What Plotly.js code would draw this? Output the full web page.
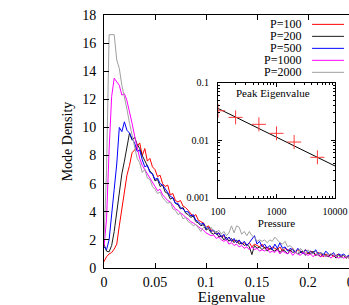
<!DOCTYPE html>
<html>
<head>
<meta charset="utf-8">
<script src="https://cdn.plot.ly/plotly-3.0.1.min.js"></script>
<style>
  html, body { margin: 0; padding: 0; overflow: hidden; background: #fff; }
  #chart { width: 400px; height: 305px; }
</style>
</head>
<body>
<div id="chart"></div>
<script>
// Mode density histograms, one per pressure
const eigenvalue = [
  0, 0.0025, 0.005, 0.0075, 0.01, 0.0125, 0.015, 0.0175, 0.02, 0.0225,
  0.025, 0.0275, 0.03, 0.0325, 0.035, 0.0375, 0.04, 0.0425, 0.045, 0.0475,
  0.05, 0.0525, 0.055, 0.0575, 0.06, 0.0625, 0.065, 0.0675, 0.07, 0.0725,
  0.075, 0.0775, 0.08, 0.0825, 0.085, 0.0875, 0.09, 0.0925, 0.095, 0.0975,
  0.1, 0.1025, 0.105, 0.1075, 0.11, 0.1125, 0.115, 0.1175, 0.12, 0.1225,
  0.125, 0.1275, 0.13, 0.1325, 0.135, 0.1375, 0.14, 0.1425, 0.145, 0.1475,
  0.15, 0.1525, 0.155, 0.1575, 0.16, 0.1625, 0.165, 0.1675, 0.17, 0.1725,
  0.175, 0.1775, 0.18, 0.1825, 0.185, 0.1875, 0.19, 0.1925, 0.195, 0.1975,
  0.2, 0.2025, 0.205, 0.2075, 0.21, 0.2125, 0.215, 0.2175, 0.22, 0.2225,
  0.225, 0.2275, 0.23, 0.2325, 0.235, 0.2375, 0.24, 0.2425, 0.245, 0.2475, 0.25
];

const densityP100 = [
  0.45, 0.8, 1.0, 1.1, 1.35, 1.7, 3.0, 4.3, 5.4, 6.6,
  7.3, 8.2, 8.4, 8.7, 8.9, 8.0, 8.5, 7.6, 7.8, 7.2,
  7.0, 6.5, 6.6, 6.0, 5.8, 5.9, 5.2, 5.3, 4.8, 4.7,
  4.8, 4.4, 4.3, 4.1, 3.9, 3.65, 3.8, 3.4, 3.3, 3.2,
  2.9, 3.0, 2.7, 2.6, 2.4, 2.5, 2.2, 2.3, 2.0, 2.2,
  1.9, 2.0, 1.8, 1.9, 1.7, 1.8, 1.6, 1.8, 1.5, 1.7,
  1.6, 1.5, 1.7, 1.4, 1.5, 1.3, 1.5, 1.4, 1.3, 1.5,
  1.2, 1.4, 1.3, 1.2, 1.4, 1.1, 1.3, 1.2, 1.1, 1.3,
  1.0, 1.2, 1.1, 0.9, 1.1, 1.0, 0.8, 1.0, 0.9, 1.0,
  0.8, 0.9, 1.0, 0.8, 0.9, 0.7, 0.9, 0.8, 0.7, 0.8, 0.7
];

const densityP200 = [
  1.7, 1.2, 1.15, 1.6, 2.6, 4.0, 5.6, 6.7, 7.6, 8.6,
  9.6, 9.1, 9.3, 8.8, 8.5, 8.0, 7.6, 7.3, 6.9, 6.7,
  6.2, 6.3, 5.8, 5.9, 5.4, 5.3, 4.9, 5.0, 4.6, 4.5,
  4.2, 4.3, 3.9, 3.8, 3.6, 3.7, 3.3, 3.2, 3.0, 3.1,
  2.7, 2.8, 2.5, 2.4, 2.6, 2.2, 2.3, 2.0, 2.2, 1.9,
  2.1, 1.8, 2.0, 1.7, 1.8, 1.6, 1.7, 1.5, 0.95, 1.6,
  1.4, 1.5, 1.3, 1.5, 1.2, 1.4, 1.3, 1.2, 1.4, 1.1,
  1.3, 1.2, 1.0, 1.3, 1.1, 1.2, 1.0, 1.1, 1.2, 0.9,
  1.1, 1.0, 1.2, 0.9, 1.0, 0.8, 1.0, 0.9, 0.8, 1.0,
  0.9, 0.7, 0.9, 0.8, 0.9, 0.7, 0.8, 0.9, 0.7, 0.8, 0.7
];

const densityP500 = [
  1.5, 1.3, 2.0, 3.6, 5.6, 7.4, 10.0, 9.7, 10.4, 9.8,
  9.6, 9.2, 8.9, 8.3, 8.4, 7.7, 7.2, 7.3, 6.8, 6.7,
  6.3, 6.4, 6.0, 5.9, 5.6, 5.4, 5.1, 5.0, 4.6, 4.6,
  4.3, 4.2, 4.0, 4.0, 3.7, 3.8, 3.4, 3.3, 3.1, 3.2,
  2.8, 2.9, 2.6, 2.7, 2.4, 2.5, 2.2, 2.4, 2.0, 2.2,
  1.9, 2.1, 1.8, 2.0, 1.7, 1.9, 1.6, 1.8, 2.1, 2.3,
  1.7, 1.9, 1.5, 1.7, 1.4, 1.6, 1.3, 1.7, 1.4, 1.8,
  1.4, 1.5, 1.2, 1.4, 1.3, 1.1, 1.4, 1.2, 1.0, 1.3,
  1.1, 1.2, 1.0, 1.3, 1.0, 1.1, 0.9, 1.2, 1.0, 0.9,
  1.1, 0.8, 1.0, 0.9, 1.0, 0.8, 0.9, 0.8, 0.9, 0.7, 0.8
];

const densityP1000 = [
  1.5, 3.5, 8.4, 12.2, 13.5, 13.2, 13.0, 12.3, 12.4, 11.9,
  11.2, 10.3, 9.4, 8.5, 7.8, 7.3, 7.0, 6.6, 6.4, 6.0,
  5.8, 5.5, 5.6, 5.2, 5.0, 4.8, 4.7, 4.4, 4.2, 4.1,
  3.9, 3.8, 3.6, 3.5, 3.3, 3.2, 3.1, 2.95, 2.8, 2.7,
  2.5, 2.4, 2.3, 2.35, 2.1, 2.2, 2.0, 1.9, 2.0, 1.7,
  1.8, 1.6, 1.7, 1.5, 1.6, 1.4, 1.5, 1.3, 1.5, 1.3,
  1.4, 1.2, 1.3, 1.2, 1.4, 1.1, 1.2, 1.1, 1.3, 1.0,
  1.2, 1.1, 1.0, 1.2, 0.9, 1.1, 1.0, 0.9, 1.1, 1.0,
  0.9, 1.0, 0.8, 1.0, 0.9, 0.8, 0.9, 0.8, 0.9, 0.7,
  0.9, 0.8, 0.7, 0.8, 0.7, 0.8, 0.7, 0.8, 0.7, 0.6, 0.7
];

const densityP2000 = [
  2.0, 7.0, 16.6, 16.6, 16.6, 14.8, 14.2, 13.0, 12.2, 11.3,
  10.3, 9.4, 8.6, 7.8, 7.5, 6.8, 7.0, 6.4, 6.3, 5.8,
  5.6, 5.3, 5.4, 5.0, 4.8, 4.6, 4.7, 4.2, 4.1, 3.8,
  3.9, 3.5, 3.6, 3.3, 3.2, 3.0, 3.1, 2.8, 2.6, 2.9,
  3.0, 2.7, 2.9, 2.6, 2.5, 2.7, 2.4, 2.6, 2.3, 2.5,
  3.0, 2.5, 3.0, 2.9, 2.4, 2.6, 2.3, 2.6, 2.3, 2.2,
  1.9, 2.0, 1.9, 2.0, 1.8, 2.0, 1.9, 2.2, 2.0, 1.8,
  1.7, 1.9, 1.5, 1.6, 1.4, 1.2, 1.0, 1.4, 1.2, 1.1,
  1.3, 1.1, 1.0, 1.2, 0.9, 1.1, 1.0, 0.8, 1.0, 0.9,
  1.0, 0.8, 0.9, 0.7, 0.9, 0.8, 0.7, 0.8, 0.9, 0.7, 0.8
];

const seriesNames = ['P=100', 'P=200', 'P=500', 'P=1000', 'P=2000'];
const seriesColors = ['#ff0000', '#1a1a1a', '#0000ff', '#ff00ff', '#a0a0a0'];
const seriesValues = [densityP100, densityP200, densityP500, densityP1000, densityP2000];

// Inset: peak eigenvalue vs pressure, with power-law fit
const pressure = [100, 200, 500, 1000, 2000, 5000];
const peakEigenvalue = [0.0326, 0.025, 0.0189, 0.0132, 0.0093, 0.00504];
const fitPressure = [100, 10000];
const fitPeak = [0.0358, 0.00356];

const serif = '"Liberation Serif", "Times New Roman", serif';

const traces = seriesValues.map((vals, i) => ({
  x: eigenvalue,
  y: vals,
  type: 'scatter',
  mode: 'lines',
  name: seriesNames[i],
  line: { color: seriesColors[i], width: 1 },
  showlegend: false,
  xaxis: 'x',
  yaxis: 'y'
}));

traces.push({
  x: fitPressure,
  y: fitPeak,
  type: 'scatter',
  mode: 'lines',
  line: { color: '#000000', width: 1 },
  showlegend: false,
  xaxis: 'x2',
  yaxis: 'y2'
});

traces.push({
  x: pressure,
  y: peakEigenvalue,
  type: 'scatter',
  mode: 'markers',
  marker: { symbol: 'cross-thin-open', size: 10, color: '#ff3b3b', line: { color: '#ff3b3b', width: 1 } },
  showlegend: false,
  xaxis: 'x2',
  yaxis: 'y2'
});

// gnuplot-style key: label on the left, line sample on the right
const legendTop = 0.963;
const legendStep = 0.0474;
const annotations = seriesNames.map((name, i) => ({
  xref: 'paper', yref: 'paper',
  x: 0.78, y: legendTop - i * legendStep,
  xanchor: 'right', yanchor: 'middle',
  text: name, showarrow: false,
  font: { family: serif, size: 12, color: '#000' }
}));
const shapes = seriesNames.map((name, i) => ({
  type: 'line', xref: 'paper', yref: 'paper',
  x0: 0.816, x1: 0.941,
  y0: legendTop - i * legendStep, y1: legendTop - i * legendStep,
  line: { color: seriesColors[i], width: 1 }
}));

annotations.push({
  xref: 'x2 domain', yref: 'y2 domain',
  x: 0.47, y: 0.98, xanchor: 'center', yanchor: 'top',
  text: 'Peak Eigenvalue', showarrow: false,
  font: { family: serif, size: 11, color: '#000' }
});

const layout = {
  width: 400,
  height: 305,
  margin: { l: 104, r: 41, t: 15, b: 37 },
  paper_bgcolor: '#ffffff',
  plot_bgcolor: 'rgba(0,0,0,0)',
  font: { family: serif, color: '#000' },
  showlegend: false,
  xaxis: {
    range: [0, 0.25],
    tickvals: [0, 0.05, 0.1, 0.15, 0.2, 0.25],
    ticktext: ['0', '0.05', '0.1', '0.15', '0.2', '0.25'],
    ticks: 'inside', ticklen: 5, tickcolor: '#000',
    showline: true, linecolor: '#000', linewidth: 1, mirror: 'ticks',
    showgrid: false, zeroline: false,
    tickfont: { family: serif, size: 14 },
    ticklabelstandoff: 1,
    title: { text: 'Eigenvalue', font: { family: serif, size: 15 }, standoff: 6 }
  },
  yaxis: {
    range: [0, 18],
    dtick: 2,
    ticks: 'inside', ticklen: 5, tickcolor: '#000',
    showline: true, linecolor: '#000', linewidth: 1, mirror: 'ticks',
    showgrid: false, zeroline: false,
    tickfont: { family: serif, size: 14 },
    ticklabelstandoff: 4,
    title: { text: 'Mode Density', font: { family: serif, size: 14 }, standoff: 6 }
  },
  xaxis2: {
    type: 'log',
    domain: [0.447, 0.906],
    anchor: 'y2',
    range: [2, 4],
    tickvals: [100, 1000, 10000],
    ticktext: ['100', '1000', '10000'],
    minor: {
      tickvals: [200, 300, 400, 500, 600, 700, 800, 900, 2000, 3000, 4000, 5000, 6000, 7000, 8000, 9000],
      ticks: 'inside', ticklen: 2, tickcolor: '#000', showgrid: false
    },
    ticks: 'inside', ticklen: 4, tickcolor: '#000',
    showline: true, linecolor: '#000', linewidth: 1, mirror: 'ticks',
    showgrid: false, zeroline: false,
    tickfont: { family: serif, size: 10 },
    ticklabelstandoff: 4,
    title: { text: 'Pressure', font: { family: serif, size: 11 }, standoff: 2 }
  },
  yaxis2: {
    type: 'log',
    domain: [0.278, 0.732],
    anchor: 'x2',
    range: [-3, -1],
    tickvals: [0.001, 0.01, 0.1],
    ticktext: ['0.001', '0.01', '0.1'],
    minor: {
      tickvals: [0.002, 0.003, 0.004, 0.005, 0.006, 0.007, 0.008, 0.009, 0.02, 0.03, 0.04, 0.05, 0.06, 0.07, 0.08, 0.09],
      ticks: 'inside', ticklen: 2, tickcolor: '#000', showgrid: false
    },
    ticks: 'inside', ticklen: 4, tickcolor: '#000',
    showline: true, linecolor: '#000', linewidth: 1, mirror: 'ticks',
    showgrid: false, zeroline: false,
    tickfont: { family: serif, size: 10 },
    ticklabelstandoff: 6
  },
  annotations: annotations,
  shapes: shapes
};

Plotly.newPlot('chart', traces, layout, { displayModeBar: false, staticPlot: true });
</script>
</body>
</html>
